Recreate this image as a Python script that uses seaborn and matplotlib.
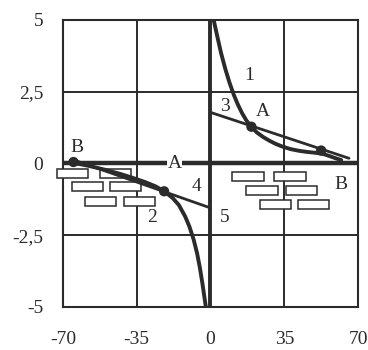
import matplotlib
matplotlib.use("Agg")
import matplotlib.pyplot as plt
from matplotlib.patches import Rectangle
import seaborn as sns

# curve 1 (right branch) and curve 2 (left branch)
curve1_x = [1.5, 3.0, 5.0, 7.0, 9.0, 11.0, 13.0, 15.0, 17.0, 19.4, 22.0, 25.0, 28.0,
            31.0, 34.0, 38.0, 42.0, 46.0, 50.0, 53.0, 56.0, 59.0, 62.0]
curve1_y = [5.0, 4.5, 3.85, 3.3, 2.82, 2.4, 2.05, 1.75, 1.5, 1.27, 1.08, 0.92, 0.79,
            0.68, 0.59, 0.5, 0.44, 0.4, 0.37, 0.34, 0.27, 0.19, 0.12]
curve2_x = [-65.0, -58.0, -50.0, -43.0, -37.0, -31.0, -26.0, -22.0, -18.0, -15.0,
            -12.0, -10.0, -8.0, -6.3, -5.0, -3.9, -3.0, -2.2]
curve2_y = [0.02, -0.08, -0.22, -0.36, -0.5, -0.65, -0.8, -0.97, -1.2, -1.45,
            -1.85, -2.2, -2.65, -3.15, -3.65, -4.15, -4.6, -5.0]

# straight lines 3 and 4
line3_x = [0.0, 65.7]
line3_y = [1.78, 0.18]
line4_x = [-64.0, 0.0]
line4_y = [0.1, -1.55]

# marked points
dots_x = [19.4, 52.5, -65.0, -22.0]
dots_y = [1.28, 0.45, 0.05, -0.97]

# brick rows (left x, top y) of the hatch under the zero line
bricks_left_x = [-72.8, -52.5, -65.7, -47.8, -59.6, -41.1]
bricks_left_y = [-0.21, -0.21, -0.66, -0.66, -1.18, -1.18]
bricks_right_x = [10.4, 30.3, 17.0, 35.9, 23.6, 41.6]
bricks_right_y = [-0.31, -0.31, -0.80, -0.80, -1.28, -1.28]
brick_w, brick_h = 14.8, 0.31

ticks = [-70, -35, 0, 35, 70]
yticks = [5, 2.5, 0, -2.5, -5]
ytick_labels = ["5", "2,5", "0", "-2,5", "-5"]

INK = "#2b2b2b"

sns.set_style("white")
plt.rcParams["font.family"] = ["Liberation Serif", "DejaVu Serif"]

fig = plt.figure(figsize=(3.68, 3.5), dpi=100)
ax = fig.add_axes([0.171, 0.123, 0.802, 0.820])

# grid
for v in [-35, 35]:
    ax.axvline(v, color=INK, lw=1.4, zorder=1)
for v in [-2.5, 2.5]:
    ax.axhline(v, color=INK, lw=1.4, zorder=1)
ax.axvline(0, color=INK, lw=2.8, zorder=2)
ax.axhline(0, color=INK, lw=3.2, zorder=2)

# bricks
for bx, by in zip(bricks_left_x + bricks_right_x, bricks_left_y + bricks_right_y):
    ax.add_patch(Rectangle((bx, by - brick_h), brick_w, brick_h, fill=True,
                           facecolor="white", edgecolor=INK, lw=1.1,
                           zorder=3, clip_on=False))

sns.lineplot(x=line3_x, y=line3_y, sort=False, color=INK, lw=2.0, ax=ax, zorder=4)
sns.lineplot(x=line4_x, y=line4_y, sort=False, color=INK, lw=2.0, ax=ax, zorder=4)
sns.lineplot(x=curve1_x, y=curve1_y, sort=False, color=INK, lw=2.8, ax=ax, zorder=5)
sns.lineplot(x=curve2_x, y=curve2_y, sort=False, color=INK, lw=2.8, ax=ax, zorder=5)
sns.scatterplot(x=dots_x, y=dots_y, color=INK, s=55, edgecolor="none", ax=ax, zorder=6)

fs = 14
labels = [("1", 18.4, 3.05), ("3", 7.0, 2.0), ("A", 25.0, 1.8), ("B", 62.0, -0.72),
          ("B", -63.4, 0.55), ("4", -6.5, -0.8), ("2", -27.5, -1.9), ("5", 6.5, -1.9)]
for t, x, y in labels:
    ax.text(x, y, t, fontsize=fs, ha="center", va="center", color=INK, zorder=7)
ax.text(-17.0, 0.0, "A", fontsize=fs, ha="center", va="center", color=INK, zorder=7,
        bbox=dict(facecolor="white", edgecolor="none", pad=0.5))

ax.set_xlim(-70, 70)
ax.set_ylim(-5, 5)
ax.set_xticks(ticks)
ax.set_xticklabels([str(t) for t in ticks])
ax.set_yticks(yticks)
ax.set_yticklabels(ytick_labels)
ax.tick_params(length=0, labelsize=fs, colors=INK)
ax.tick_params(axis="x", pad=17)
ax.tick_params(axis="y", pad=14)
for s in ax.spines.values():
    s.set_color(INK)
    s.set_linewidth(1.5)

fig.savefig("out.png", dpi=100, facecolor="white")
